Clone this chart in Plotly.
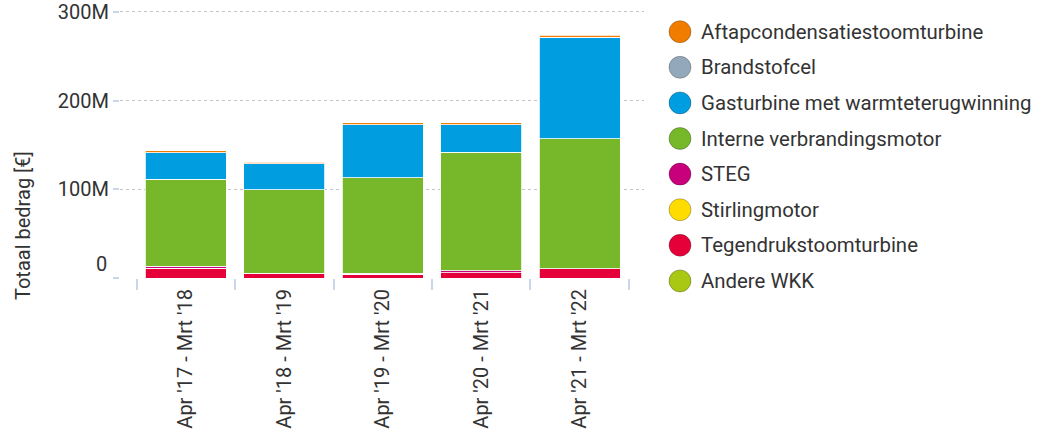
import plotly.graph_objects as go

# ── Data (values in million euro) ─────────────────────────────────────────────
PERIODS = ["Apr '17 - Mrt '18", "Apr '18 - Mrt '19", "Apr '19 - Mrt '20",
           "Apr '20 - Mrt '21", "Apr '21 - Mrt '22"]

aftapcondensatie = [2.2, 2.0, 2.2, 2.2, 2.2]
brandstofcel     = [0.0, 0.0, 0.0, 0.0, 0.0]
gasturbine       = [29.8, 29.5, 59.5, 30.8, 114.3]
interne_motor    = [97.7, 93.8, 107.8, 133.5, 146.3]
steg             = [2.5, 0.0, 1.0, 2.2, 0.0]
stirlingmotor    = [0.0, 0.0, 0.0, 0.0, 0.0]
tegendruk        = [11.0, 5.4, 4.4, 6.2, 10.7]
andere_wkk       = [0.0, 0.0, 0.0, 0.0, 0.0]

Y_TICKS = [0, 100e6, 200e6, 300e6]
Y_TICK_TEXT = ["", "100M", "200M", "300M"]

# legend order (top of legend = top of stack)
SERIES = [
    ("Aftapcondensatiestoomturbine", aftapcondensatie, "#f07d00"),
    ("Brandstofcel", brandstofcel, "#93a8bb"),
    ("Gasturbine met warmteterugwinning", gasturbine, "#009de0"),
    ("Interne verbrandingsmotor", interne_motor, "#76b82a"),
    ("STEG", steg, "#c8007b"),
    ("Stirlingmotor", stirlingmotor, "#ffdc00"),
    ("Tegendrukstoomturbine", tegendruk, "#e6003a"),
    ("Andere WKK", andere_wkk, "#a8c813"),
]

# ── Theme / layout geometry ───────────────────────────────────────────────────
FONT = "Roboto, sans-serif"
TEXT_CLR = "#333333"
TICK_CLR = "#ccd6eb"
GRID_CLR = "#c4c4c4"

W, H = 1038, 440
# plot area in pixels
PL, PR, PT, PB = 120, 644, 10, 278


def px_x(px):
    return (px - PL) / (PR - PL)


def px_y(py):
    return (PB - py) / (PB - PT)


fig = go.Figure()

# bottom of stack first
for name, vals, color in reversed(SERIES):
    fig.add_trace(go.Bar(
        x=PERIODS, y=[v * 1e6 for v in vals],
        name=name,
        marker=dict(color=color, line=dict(color="white", width=0.8)),
        showlegend=False,
        hovertemplate=f"<b>%{{x}}</b><br>{name}: %{{y:,.0f}} €<extra></extra>",
    ))

# custom legend with large round symbols
shapes, annotations = [], []
for i, (name, vals, color) in enumerate(SERIES):
    cy = px_y(31.7 + 35.6 * i)
    shapes.append(dict(
        type="circle", xref="paper", yref="paper",
        xsizemode="pixel", ysizemode="pixel",
        xanchor=px_x(680), yanchor=cy,
        x0=-11, x1=11, y0=-11, y1=11,
        fillcolor=color, line=dict(color="rgba(0,0,0,0.25)", width=1),
    ))
    annotations.append(dict(
        text=name, xref="paper", yref="paper",
        x=px_x(699), y=cy, xanchor="left", yanchor="middle",
        showarrow=False, font=dict(size=20.4, color=TEXT_CLR),
    ))

# "0" label sits a bit above the baseline in the reference
annotations.append(dict(
    text="0", xref="paper", yref="y", x=px_x(109), y=0,
    xanchor="right", yanchor="middle", yshift=14,
    showarrow=False, font=dict(size=20, color=TEXT_CLR),
))

# y-axis title
annotations.append(dict(
    text="Totaal bedrag [€]", xref="paper", yref="paper",
    x=px_x(23), y=px_y(226), textangle=-90,
    xanchor="center", yanchor="middle",
    showarrow=False, font=dict(size=20, color=TEXT_CLR),
))

fig.update_layout(
    width=W, height=H,
    barmode="stack", bargap=0.177,
    paper_bgcolor="white", plot_bgcolor="white",
    font=dict(family=FONT, color=TEXT_CLR, size=20),
    margin=dict(l=PL, r=W - PR, t=PT, b=H - PB, autoexpand=False),
    shapes=shapes, annotations=annotations,
    showlegend=False,
)
fig.update_xaxes(
    range=[-0.67, 4.655], tickangle=-90,
    tickson="boundaries", ticks="outside", ticklen=11,
    tickcolor=TICK_CLR, tickwidth=1.5, ticklabelstandoff=6,
    showgrid=False, showline=False, zeroline=False,
    tickfont=dict(size=20, color=TEXT_CLR),
)
fig.update_yaxes(
    range=[0, 302e6], tickvals=Y_TICKS, ticktext=Y_TICK_TEXT,
    ticks="outside", ticklen=6, tickcolor=TICK_CLR, tickwidth=1.5,
    ticklabeloverflow="allow",
    showgrid=True, gridcolor=GRID_CLR, griddash="dot", gridwidth=1,
    zeroline=False, showline=False,
    tickfont=dict(size=20, color=TEXT_CLR),
)

# drop the default 8px page margin so the figure fills the window exactly
fig.write_html("out.html", config={"displayModeBar": False},
               post_script="document.body.style.margin = '0';")
